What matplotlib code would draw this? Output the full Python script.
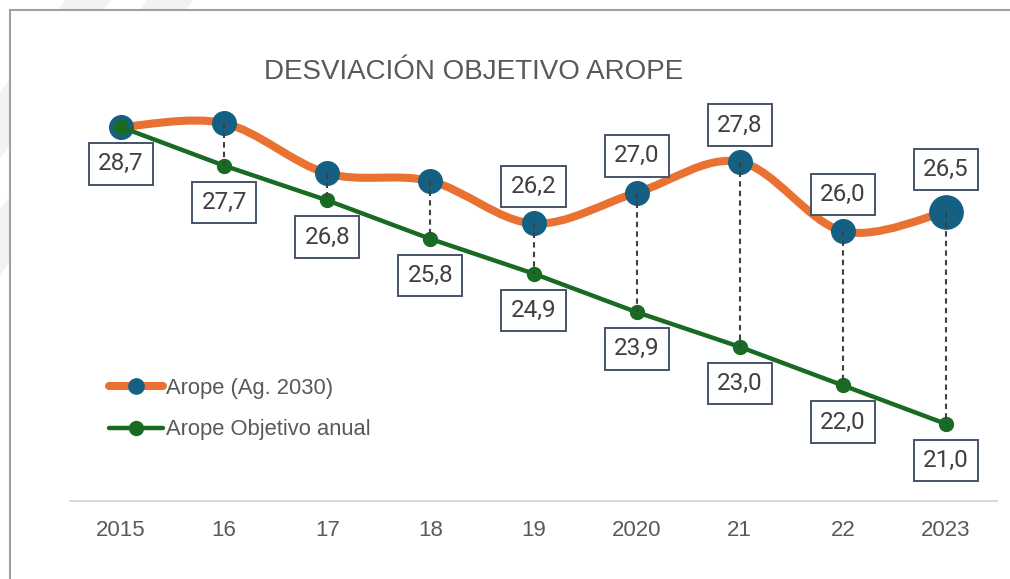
import matplotlib.pyplot as plt
from matplotlib.path import Path
from matplotlib.patches import PathPatch, Polygon
from matplotlib.lines import Line2D

plt.rcParams['font.family'] = ['Liberation Sans', 'DejaVu Sans']

# data
years = ["2015", "16", "17", "18", "19", "2020", "21", "22", "2023"]
arope = [28.7, 28.8, 27.5, 27.3, 26.2, 27.0, 27.8, 26.0, 26.5]
objetivo = [28.7, 27.7, 26.8, 25.8, 24.9, 23.9, 23.0, 22.0, 21.0]
label_arope = [False, False, False, False, True, True, True, True, True]

ORANGE = '#E97132'
BLUE = '#156082'
GREEN = '#196B24'
GRAY = '#595959'

W, H = 1010, 579
fig = plt.figure(figsize=(W / 100, H / 100), dpi=100)


def fx(px):
    return px / W


def fy(py):
    return 1 - py / H


# faint watermark stripes behind the chart box
for x0 in [15, 97]:
    pts = [(fx(x0 + 50), fy(0)), (fx(x0 + 96), fy(0)),
           (fx(x0 + 96 - 0.7 * 300), fy(300)), (fx(x0 + 50 - 0.7 * 300), fy(300))]
    fig.add_artist(Polygon(pts, closed=True, transform=fig.transFigure,
                           facecolor='#F3F2F3', edgecolor='none', zorder=0))
fig.add_artist(Polygon([(fx(9.5), fy(10)), (fx(W + 5), fy(10)), (fx(W + 5), fy(H + 5)), (fx(9.5), fy(H + 5))],
                       closed=True, transform=fig.transFigure,
                       facecolor='white', edgecolor='#A0A0A0', linewidth=1.5, zorder=1))

ax = fig.add_axes([fx(69.5), fy(501), fx(928), 424 / H])
ax.set_zorder(2)
ax.patch.set_visible(False)
x = list(range(len(years)))
ax.set_xlim(-0.5, len(years) - 0.5)
ax.set_ylim(19, 30)

# smoothed orange line (Excel-like bezier through the points)
n = len(x)
verts = [(x[0], arope[0])]
codes = [Path.MOVETO]
for i in range(n - 1):
    p0 = (x[max(i - 1, 0)], arope[max(i - 1, 0)])
    p1 = (x[i], arope[i])
    p2 = (x[i + 1], arope[i + 1])
    p3 = (x[min(i + 2, n - 1)], arope[min(i + 2, n - 1)])
    c1 = (p1[0] + (p2[0] - p0[0]) / 6, p1[1] + (p2[1] - p0[1]) / 6)
    c2 = (p2[0] - (p3[0] - p1[0]) / 6, p2[1] - (p3[1] - p1[1]) / 6)
    verts += [c1, c2, p2]
    codes += [Path.CURVE4] * 3
ax.add_patch(PathPatch(Path(verts, codes), facecolor='none', edgecolor=ORANGE,
                       linewidth=5.8, capstyle='round', zorder=2))

sizes = [17] * (n - 1) + [24]
for i in range(n):
    ax.plot(x[i], arope[i], 'o', color=BLUE, markersize=sizes[i], zorder=3)

ax.plot(x, objetivo, color=GREEN, linewidth=3.2, marker='o', markersize=10, zorder=4)

# dashed drop lines
for i in range(1, n):
    ax.plot([x[i], x[i]], [arope[i], objetivo[i]], color='#404040', linewidth=1.5,
            dashes=(2.6, 2.0), zorder=5)


def fmt(v):
    return f"{v:.1f}".replace('.', ',')


label_font = ['Roboto', 'DejaVu Sans']
box = dict(boxstyle='square,pad=0.38', facecolor='white', edgecolor='#44546A', linewidth=1.4)
for i in range(n):
    ax.annotate(fmt(objetivo[i]), (x[i], objetivo[i]), xytext=(0, -26.5),
                textcoords='offset points', ha='center', va='center', family=label_font,
                fontsize=17.5, color='#404040', bbox=box, zorder=6)
    if label_arope[i]:
        off = 26.5 + (sizes[i] - 17) * 0.6
        ax.annotate(fmt(arope[i]), (x[i], arope[i]), xytext=(0, off),
                    textcoords='offset points', ha='center', va='center', family=label_font,
                    fontsize=17.5, color='#404040', bbox=box, zorder=6)

for s in ['left', 'right', 'top']:
    ax.spines[s].set_visible(False)
ax.spines['bottom'].set_color('#D9D9D9')
ax.spines['bottom'].set_linewidth(1.5)
ax.set_yticks([])
ax.set_xticks(x)
ax.set_xticklabels(years, fontsize=16, color=GRAY)
ax.tick_params(axis='x', length=0, pad=14)

fig.text(fx(474), fy(72), "DESVIACIÓN OBJETIVO AROPE", ha='center', va='center',
         fontsize=20, color=GRAY, zorder=3)

handles = [
    Line2D([], [], color=ORANGE, linewidth=5.8, solid_capstyle='round',
           marker='o', markersize=11, markerfacecolor=BLUE, markeredgecolor=BLUE),
    Line2D([], [], color=GREEN, linewidth=3.2, solid_capstyle='round',
           marker='o', markersize=10, markerfacecolor=GREEN, markeredgecolor=GREEN),
]
leg = ax.legend(handles, ["Arope (Ag. 2030)", "Arope Objetivo anual"],
                loc='center left', bbox_to_anchor=(fx(89), fy(409)),
                bbox_transform=fig.transFigure, frameon=False, fontsize=15.8,
                handlelength=2.45, handletextpad=0.15, labelspacing=0.95)
for t in leg.get_texts():
    t.set_color(GRAY)

fig.savefig("out.png", dpi=100)
